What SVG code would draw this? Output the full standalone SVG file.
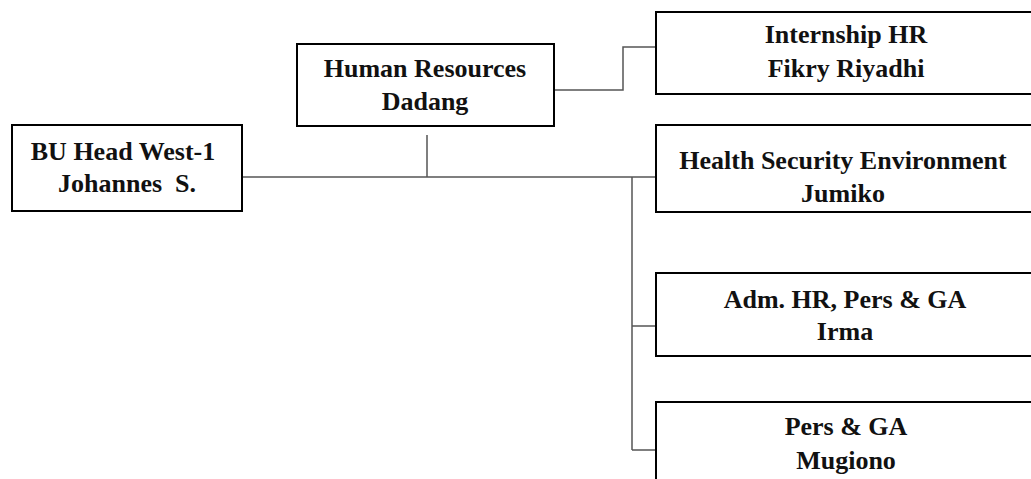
<svg xmlns="http://www.w3.org/2000/svg" width="1031" height="479" viewBox="0 0 1031 479">
<style>
.box{fill:#fff;stroke:#000;stroke-width:2}
.t{font-family:"Liberation Serif","Times New Roman",serif;font-weight:bold;font-size:26px;fill:#111;text-anchor:middle}
.c{fill:none;stroke:#555;stroke-width:1.5}
</style>
<rect width="1031" height="479" fill="#fff"/>
<g id="connectors">
<path class="c" d="M242 177 H656"/>
<path class="c" d="M427 135 V177"/>
<path class="c" d="M554 90 H623 V47 H656"/>
<path class="c" d="M632 177 V450"/>
<path class="c" d="M632 326 H656"/>
<path class="c" d="M632 450 H656"/>
</g>
<g id="bu-head">
<rect class="box" x="12" y="125" width="230" height="86"/>
<text class="t" x="123" y="160">BU Head West-1</text>
<text class="t" x="127" y="192">Johannes&#160;&#160;S.</text>
</g>
<g id="human-resources">
<rect class="box" x="297" y="44" width="257" height="82"/>
<text class="t" x="425" y="77">Human Resources</text>
<text class="t" x="425" y="110">Dadang</text>
</g>
<g id="internship-hr">
<rect class="box" x="656" y="12" width="380" height="82"/>
<text class="t" x="846" y="43">Internship HR</text>
<text class="t" x="846" y="77">Fikry Riyadhi</text>
</g>
<g id="hse">
<rect class="box" x="656" y="125" width="380" height="87"/>
<text class="t" x="843" y="169">Health Security Environment</text>
<text class="t" x="843" y="202">Jumiko</text>
</g>
<g id="adm-hr">
<rect class="box" x="656" y="273" width="380" height="83"/>
<text class="t" x="845" y="308">Adm. HR, Pers &amp; GA</text>
<text class="t" x="845" y="340">Irma</text>
</g>
<g id="pers-ga">
<rect class="box" x="656" y="402" width="380" height="90"/>
<text class="t" x="846" y="435">Pers &amp; GA</text>
<text class="t" x="846" y="469">Mugiono</text>
</g>
</svg>
